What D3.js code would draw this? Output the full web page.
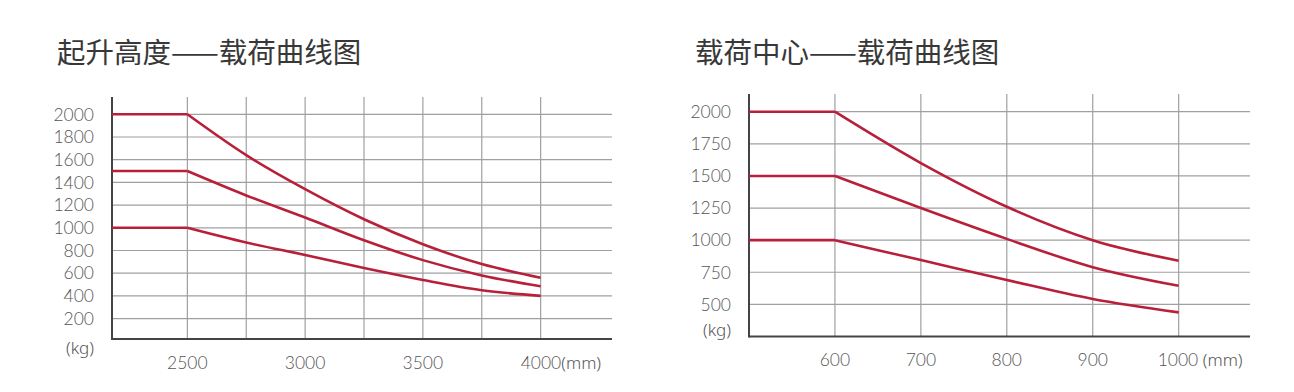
<!DOCTYPE html>
<html>
<head>
<meta charset="utf-8">
<script src="https://cdn.jsdelivr.net/npm/d3@7"></script>
<style>
  body { margin: 0; background: #fff; }
  svg { display: block; }
</style>
</head>
<body>
<svg id="chart" width="1294" height="392"></svg>
<script>
// ---- data: lift height vs load ----
const heightTitle = "起升高度——载荷曲线图";
const heightYTicks = [200, 400, 600, 800, 1000, 1200, 1400, 1600, 1800, 2000];
const heightXGrid = [2500, 2750, 3000, 3250, 3500, 3750, 4000];
const heightXLabels = [2500, 3000, 3500, 4000];
const heightX = [2500, 2750, 3000, 3250, 3500, 3750, 4000];
const heightHigh = [2000, 1640, 1340, 1075, 855, 680, 560];
const heightMid = [1500, 1285, 1090, 890, 715, 580, 485];
const heightLow = [1000, 870, 760, 645, 540, 450, 400];

// ---- data: load centre vs load ----
const centerTitle = "载荷中心——载荷曲线图";
const centerYTicks = [500, 750, 1000, 1250, 1500, 1750, 2000];
const centerXGrid = [600, 700, 800, 900, 1000];
const centerXLabels = [600, 700, 800, 900, 1000];
const centerX = [600, 700, 800, 900, 1000];
const centerHigh = [2000, 1600, 1260, 1000, 840];
const centerMid = [1500, 1250, 1010, 790, 645];
const centerLow = [1000, 845, 690, 542, 438];

const RED = "#b8203a";
const svg = d3.select("#chart");

/**
 * Draws one load curve panel.
 */
function drawPanel(cfg) {
    const g = svg.append("g");

    const x = d3.scaleLinear().domain(cfg.xDomain).range([cfg.left, cfg.right]);
    const y = d3.scaleLinear().domain(cfg.yDomain).range([cfg.bottom, cfg.yTop]);

    // Title
    g.append("text")
        .attr("x", cfg.titleX)
        .attr("y", 63)
        .style("font-family", "'Noto Sans CJK SC', sans-serif")
        .style("font-size", "28.5px")
        .style("fill", "#383838")
        .text(cfg.title);

    // Horizontal grid
    g.selectAll(".hgrid")
        .data(cfg.yTicks)
        .enter().append("line")
        .attr("x1", cfg.left)
        .attr("x2", cfg.right)
        .attr("y1", d => y(d))
        .attr("y2", d => y(d))
        .attr("stroke", "#a0a0a0")
        .attr("stroke-width", 1.2);

    // Vertical grid
    g.selectAll(".vgrid")
        .data(cfg.xGrid)
        .enter().append("line")
        .attr("x1", d => x(d))
        .attr("x2", d => x(d))
        .attr("y1", cfg.top)
        .attr("y2", cfg.bottom)
        .attr("stroke", "#a0a0a0")
        .attr("stroke-width", 1.2);

    // Axes lines
    g.append("line")
        .attr("x1", cfg.left).attr("x2", cfg.left)
        .attr("y1", cfg.top).attr("y2", cfg.bottom + 1)
        .attr("stroke", "#444").attr("stroke-width", 2);
    g.append("line")
        .attr("x1", cfg.left).attr("x2", cfg.right)
        .attr("y1", cfg.bottom).attr("y2", cfg.bottom)
        .attr("stroke", "#444").attr("stroke-width", 2);

    const labelStyle = sel => sel
        .style("font-family", "Lato, 'Noto Sans', sans-serif")
        .style("font-weight", 300)
        .style("font-size", "17.5px")
        .style("fill", "#555");

    const unitStyle = sel => sel
        .style("font-family", "'Noto Sans', sans-serif")
        .style("font-weight", 300)
        .style("font-size", "17px")
        .style("fill", "#555");

    // Y tick labels
    g.selectAll(".ylab")
        .data(cfg.yTicks)
        .enter().append("text")
        .attr("x", cfg.left - 18)
        .attr("y", d => y(d))
        .attr("dy", "0.36em")
        .attr("text-anchor", "end")
        .call(labelStyle)
        .text(d => d);

    g.append("text")
        .attr("x", cfg.left - 18)
        .attr("y", cfg.kgY)
        .attr("dy", "0.36em")
        .attr("text-anchor", "end")
        .call(unitStyle)
        .text("(kg)");

    // X tick labels
    const last = cfg.xLabels[cfg.xLabels.length - 1];
    const xl = g.selectAll(".xlab")
        .data(cfg.xLabels)
        .enter().append("text")
        .attr("x", d => d === last ? x(d) - cfg.lastHalf : x(d))
        .attr("y", cfg.xLabelY)
        .attr("dy", "0.36em")
        .attr("text-anchor", d => d === last ? "start" : "middle")
        .call(labelStyle);

    xl.append("tspan").text(d => d);
    xl.filter(d => d === last)
        .append("tspan")
        .call(unitStyle)
        .text(cfg.unit);

    // Curves: flat part then smooth decline
    const curve = d3.line()
        .x((d, i) => x(cfg.xs[i]))
        .y(d => y(d))
        .curve(d3.curveMonotoneX);

    cfg.series.forEach(s => {
        g.append("line")
            .attr("x1", cfg.left)
            .attr("x2", x(cfg.xs[0]))
            .attr("y1", y(s[0]))
            .attr("y2", y(s[0]))
            .attr("stroke", RED)
            .attr("stroke-width", 2.6);
        g.append("path")
            .attr("d", curve(s))
            .attr("fill", "none")
            .attr("stroke", RED)
            .attr("stroke-width", 2.6)
            .attr("stroke-linejoin", "round");
    });
}

drawPanel({
    title: heightTitle,
    titleX: 57,
    xDomain: [2180, 4303],
    yDomain: [20, 2000],
    left: 112, right: 612,
    top: 97, bottom: 339, yTop: 114.3,
    yTicks: heightYTicks,
    xGrid: heightXGrid,
    xLabels: heightXLabels,
    xs: heightX,
    series: [heightHigh, heightMid, heightLow],
    kgY: 348,
    xLabelY: 363,
    unit: "(mm)",
    lastHalf: 20
});

drawPanel({
    title: centerTitle,
    titleX: 695,
    xDomain: [500, 1083],
    yDomain: [250, 2000],
    left: 749, right: 1250,
    top: 94, bottom: 336.5, yTop: 111.7,
    yTicks: centerYTicks,
    xGrid: centerXGrid,
    xLabels: centerXLabels,
    xs: centerX,
    series: [centerHigh, centerMid, centerLow],
    kgY: 330,
    xLabelY: 360,
    unit: " (mm)",
    lastHalf: 21
});
</script>
</body>
</html>
